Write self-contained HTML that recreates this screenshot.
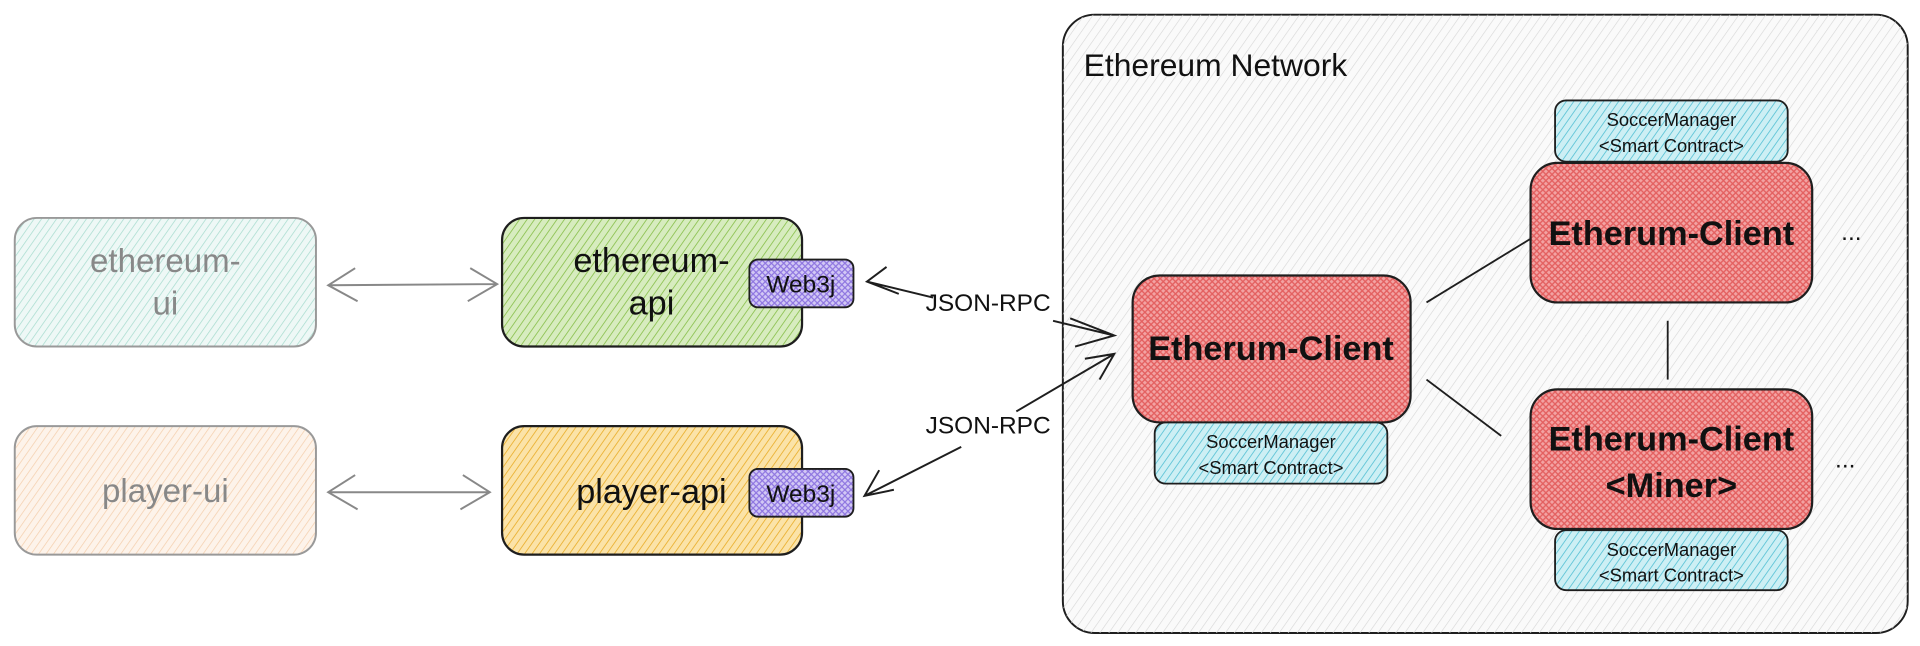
<!DOCTYPE html>
<html><head><meta charset="utf-8"><style>
html,body{margin:0;padding:0;background:#fff;}
svg{display:block;}
text{font-family:"Liberation Sans",sans-serif;}
</style></head><body>
<svg width="1920" height="646" viewBox="0 0 1568 527.6" xmlns="http://www.w3.org/2000/svg">
<defs>
<pattern id="hg" width="6" height="6" patternUnits="userSpaceOnUse" patternTransform="rotate(35)"><line x1="0" y1="0" x2="0" y2="6" stroke="#d6d6d6" stroke-width="1"/></pattern>
<pattern id="ht" width="5" height="5" patternUnits="userSpaceOnUse" patternTransform="rotate(35)"><rect width="5" height="5" fill="#eef8f6"/><line x1="0" y1="0" x2="0" y2="5" stroke="#a8dccf" stroke-width="1.2"/></pattern>
<pattern id="hp" width="5" height="5" patternUnits="userSpaceOnUse" patternTransform="rotate(35)"><rect width="5" height="5" fill="#fdf3ea"/><line x1="0" y1="0" x2="0" y2="5" stroke="#f4cfae" stroke-width="1.2"/></pattern>
<pattern id="hgr" width="5" height="5" patternUnits="userSpaceOnUse" patternTransform="rotate(35)"><rect width="5" height="5" fill="#d7ecbf"/><line x1="0" y1="0" x2="0" y2="5" stroke="#8cc251" stroke-width="1.4"/></pattern>
<pattern id="hor" width="5" height="5" patternUnits="userSpaceOnUse" patternTransform="rotate(35)"><rect width="5" height="5" fill="#fbe3a8"/><line x1="0" y1="0" x2="0" y2="5" stroke="#eab030" stroke-width="1.4"/></pattern>
<pattern id="hcy" width="5" height="5" patternUnits="userSpaceOnUse" patternTransform="rotate(35)"><rect width="5" height="5" fill="#cdeff4"/><line x1="0" y1="0" x2="0" y2="5" stroke="#5cc3d6" stroke-width="1.4"/></pattern>
<pattern id="hr" width="5" height="5" patternUnits="userSpaceOnUse"><rect width="5" height="5" fill="#f3a3a3"/><path d="M0 0L5 5M5 0L0 5" stroke="#e35f5f" stroke-width="1.1"/></pattern>
<pattern id="hv" width="5" height="5" patternUnits="userSpaceOnUse"><rect width="5" height="5" fill="#d2c8f5"/><path d="M0 0L5 5M5 0L0 5" stroke="#8d74e0" stroke-width="1"/></pattern>
</defs>
<rect x="868" y="12" width="690" height="505" rx="26" fill="#fafafa" stroke="#1e1e1e" stroke-width="1.6"/>
<rect x="868" y="12" width="690" height="505" rx="26" fill="url(#hg)"/>
<text x="885" y="62" font-size="26" fill="#111">Ethereum Network</text>

<rect x="12" y="178" width="246" height="105" rx="18" fill="url(#ht)" stroke="#999" stroke-width="1.6"/>
<text x="135" y="222" font-size="27" fill="#888" text-anchor="middle">ethereum-</text>
<text x="135" y="257" font-size="27" fill="#888" text-anchor="middle">ui</text>
<rect x="12" y="348" width="246" height="105" rx="18" fill="url(#hp)" stroke="#999" stroke-width="1.6"/>
<text x="135" y="410" font-size="27" fill="#888" text-anchor="middle">player-ui</text>

<rect x="410" y="178" width="245" height="105" rx="18" fill="url(#hgr)" stroke="#1e1e1e" stroke-width="1.8"/>
<text x="532" y="222" font-size="28" fill="#111" text-anchor="middle">ethereum-</text>
<text x="532" y="257" font-size="28" fill="#111" text-anchor="middle">api</text>
<rect x="410" y="348" width="245" height="105" rx="18" fill="url(#hor)" stroke="#1e1e1e" stroke-width="1.8"/>
<text x="532" y="411" font-size="28" fill="#111" text-anchor="middle">player-api</text>
<rect x="612" y="212" width="85" height="39" rx="7" fill="url(#hv)" stroke="#1e1e1e" stroke-width="1.5"/>
<text x="654" y="239" font-size="20" fill="#111" text-anchor="middle">Web3j</text>
<rect x="612" y="383" width="85" height="39" rx="7" fill="url(#hv)" stroke="#1e1e1e" stroke-width="1.5"/>
<text x="654" y="410" font-size="20" fill="#111" text-anchor="middle">Web3j</text>

<g stroke="#888" stroke-width="1.6" fill="none">
<path d="M268 233L406 232M290 219L268 233L292 246M384 219L406 232L382 246"/>
<path d="M268 402L400 402M290 388L268 402L292 416M378 388L400 402L376 416"/>
</g>

<g stroke="#1e1e1e" stroke-width="1.6" fill="none">
<path d="M708 230L762 243M724 218L708 230L734 240"/>
<path d="M860 262L910 274M874 260L910 274L878 283"/>
<path d="M785 365L706 405M718 384L706 405L730 400"/>
<path d="M830 336L910 289M886 293L910 289L898 310"/>
</g>
<text x="807" y="254" font-size="20" fill="#111" text-anchor="middle">JSON-RPC</text>
<text x="807" y="354" font-size="20" fill="#111" text-anchor="middle">JSON-RPC</text>

<rect x="925" y="225" width="227" height="120" rx="22" fill="url(#hr)" stroke="#1e1e1e" stroke-width="1.8"/>
<text x="1038" y="294" font-size="28" font-weight="bold" fill="#111" text-anchor="middle">Etherum-Client</text>
<rect x="943" y="345" width="190" height="50" rx="9" fill="url(#hcy)" stroke="#1e1e1e" stroke-width="1.5"/>
<text x="1038" y="366" font-size="15" fill="#111" text-anchor="middle">SoccerManager</text>
<text x="1038" y="387" font-size="15" fill="#111" text-anchor="middle">&lt;Smart Contract&gt;</text>

<rect x="1270" y="82" width="190" height="50" rx="9" fill="url(#hcy)" stroke="#1e1e1e" stroke-width="1.5"/>
<text x="1365" y="103" font-size="15" fill="#111" text-anchor="middle">SoccerManager</text>
<text x="1365" y="124" font-size="15" fill="#111" text-anchor="middle">&lt;Smart Contract&gt;</text>
<rect x="1250" y="133" width="230" height="114" rx="22" fill="url(#hr)" stroke="#1e1e1e" stroke-width="1.8"/>
<text x="1365" y="200" font-size="28" font-weight="bold" fill="#111" text-anchor="middle">Etherum-Client</text>

<rect x="1250" y="318" width="230" height="114" rx="22" fill="url(#hr)" stroke="#1e1e1e" stroke-width="1.8"/>
<text x="1365" y="368" font-size="28" font-weight="bold" fill="#111" text-anchor="middle">Etherum-Client</text>
<text x="1365" y="406" font-size="28" font-weight="bold" fill="#111" text-anchor="middle">&lt;Miner&gt;</text>
<rect x="1270" y="433" width="190" height="49" rx="9" fill="url(#hcy)" stroke="#1e1e1e" stroke-width="1.5"/>
<text x="1365" y="454" font-size="15" fill="#111" text-anchor="middle">SoccerManager</text>
<text x="1365" y="475" font-size="15" fill="#111" text-anchor="middle">&lt;Smart Contract&gt;</text>

<g stroke="#1e1e1e" stroke-width="1.5">
<line x1="1165" y1="247" x2="1250" y2="195"/>
<line x1="1362" y1="262" x2="1362" y2="310"/>
<line x1="1165" y1="310" x2="1226" y2="356"/>
</g>
<text x="1512" y="196" font-size="20" fill="#111" text-anchor="middle">...</text>
<text x="1507" y="382" font-size="20" fill="#111" text-anchor="middle">...</text>
</svg>
</body></html>
